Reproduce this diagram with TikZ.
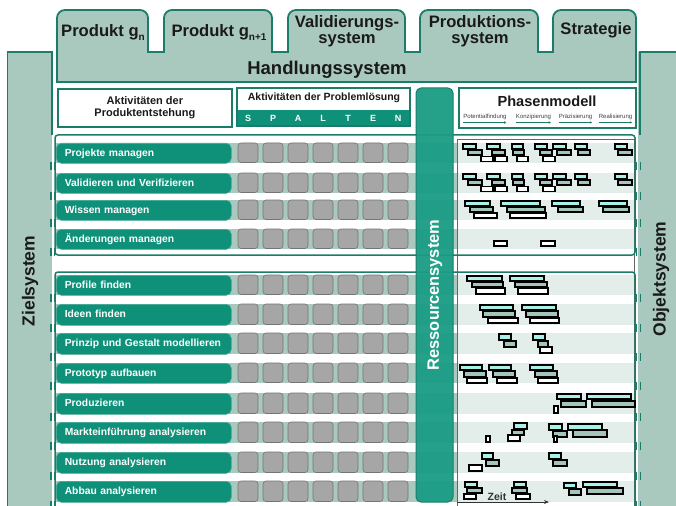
\documentclass[tikz,border=0pt]{standalone}
\usepackage{fontspec}
\setmainfont{Liberation Sans}
\usetikzlibrary{arrows.meta}
\definecolor{lgreen}{HTML}{A9C9BF}
\definecolor{tdark}{HTML}{1B7D69}
\definecolor{tlab}{HTML}{0F9179}
\definecolor{tres}{HTML}{1A9C84}
\definecolor{sqfill}{HTML}{A6A6A6}
\definecolor{sqdraw}{HTML}{747474}
\definecolor{pband}{HTML}{E3EEEA}
\definecolor{gcyan}{HTML}{A8F2EA}
\definecolor{gmid}{HTML}{A4C6BA}
\definecolor{txt}{HTML}{1A1A1A}
\newcommand\GB[5]{\draw[ganttbar,fill=#5] (#1,#3) rectangle (#2,#4);}
\tikzset{
  tabbox/.style={fill=lgreen,draw=tdark,line width=1.8pt,rounded corners=8pt},
  borderline/.style={draw=tdark,line width=1.8pt},
  hbox/.style={fill=white,draw=tdark,line width=1.8pt,inner sep=0pt},
  lab/.style={fill=tlab,draw=tlab!75!white,line width=0.6pt,rounded corners=5pt,anchor=north west,minimum width=175pt,text width=158pt,align=left,inner xsep=8.5pt,inner ysep=0pt,text=white,text height=7.6pt,text depth=1.6pt,font=\fontsize{10.3}{12}\selectfont\bfseries},
  sq/.style={fill=sqfill,draw=sqdraw,line width=0.6pt,rounded corners=3pt},
  ganttbar/.style={draw=black,line width=1.3pt},
  tickm/.style={draw=tdark,line width=1.6pt},
  frame/.style={draw=tdark,line width=1.5pt,rounded corners=3pt},
  tabtext/.style={font=\fontsize{16.6}{16}\selectfont\bfseries,text=txt,align=center,inner sep=0pt},
}
\begin{document}
\begin{tikzpicture}[x=1pt,y=-1pt]
\clip (0,0) rectangle (676,505);
\fill[white] (0,0) rectangle (676,505);

% side systems
\fill[lgreen] (7.5,52) rectangle (52,520);
\draw[borderline] (52,135) -- (52,52) -- (7.5,52) -- (7.5,520);
\fill[lgreen] (638,52) rectangle (690,520);
\draw[borderline] (640,135) -- (640,52) -- (690,52);
\node[rotate=90,font=\fontsize{17.5}{20}\selectfont\bfseries,text=txt] (zs) at (30,281) {Zielsystem};
\node[rotate=90,font=\fontsize{17.5}{20}\selectfont\bfseries,text=txt] (os) at (661,279) {Objektsystem};

% tabs and Handlungssystem bar
\foreach \a/\b in {57/148,164/272,288/405,420/538,553/636}
  \draw[tabbox] (\a,10) rectangle (\b,62);
\fill[lgreen] (57,52) rectangle (636,82);
\draw[borderline] (57,52) -- (57,82) -- (636,82) -- (636,52);
\foreach \a/\b in {148/164,272/288,405/420,538/553}
  \draw[borderline,line cap=rect] (\a,52) -- (\b,52);
\node[tabtext,anchor=base] (t1) at (103,37) {Produkt g\raisebox{-0.22em}{\fontsize{10}{10}\selectfont n}};
\node[tabtext,anchor=base] (t2) at (219,37) {Produkt g\raisebox{-0.22em}{\fontsize{10}{10}\selectfont n+1}};
\node[tabtext] (t3) at (347,31) {Validierungs-\\system};
\node[tabtext] (t4) at (480,31) {Produktions-\\system};
\node[tabtext,anchor=base] (t5) at (596,35) {Strategie};
\node[font=\fontsize{18.5}{20}\selectfont\bfseries,text=txt,anchor=base] (hs) at (327,75) {Handlungssystem};

% header boxes
\node[hbox,anchor=north west,minimum width=174pt,minimum height=38pt,align=center,font=\fontsize{11}{11.5}\selectfont\bfseries,text=txt] (ha) at (57,88) {Aktivitäten der\\Produktentstehung};
\fill[white] (237,88) rectangle (410,126);
\fill[tlab] (237,110) rectangle (410,126);
\draw[borderline] (237,88) rectangle (410,126);
\node[font=\fontsize{10.5}{12}\selectfont\bfseries,anchor=base,text=txt] (hb) at (324,101) {Aktivitäten der Problemlösung};
\foreach \L [count=\i from 0] in {S,P,A,L,T,E,N}
  \node[font=\fontsize{9}{10}\selectfont\bfseries,text=white,anchor=base] (sp\i) at ({248+25*\i},122) {\L};
\fill[white] (459,88) rectangle (636,128);
\draw[borderline] (459,88) rectangle (636,128);
\node[anchor=base,font=\fontsize{14.6}{16}\selectfont\bfseries,text=txt] (pm) at (547,107) {Phasenmodell};
\foreach \x/\t/\n in {485/Potentialfindung/pa,533.5/Konzipierung/pb,575.5/Präzisierung/pc,615.5/Realisierung/pd}{
  \node[anchor=base,font=\fontsize{6}{7}\selectfont,text=black!75,inner sep=0pt] (\n) at (\x,119) {\t};
  \draw[-{Latex[length=2.5pt,width=2.5pt]},tdark,line width=0.9pt] ([yshift=-3.5pt]\n.base west) -- ([yshift=-3.5pt]\n.base east);
}

% row bands
\foreach \yt/\yb in {143/163,173/193,200/220,229/249,275/295,304/325,333/354,363/383,393/414,422/443,452/473,481/502}{
  \fill[lgreen] (56,\yt) rectangle (457,\yb);
  \fill[pband] (457,\yt) rectangle (634,\yb);
}
\draw[black!60,line width=0.7pt] (457,139) rectangle (634,530);
\draw[frame] (55,135) rectangle (635,255);
\draw[frame] (55,272) rectangle (635,530);

% row labels, squares, ticks
\foreach \yt/\yb/\txt/\nm in {143/163/Projekte managen/r1,173/193/Validieren und Verifizieren/r2,200/220/Wissen managen/r3,229/249/Änderungen managen/r4,275/295/Profile finden/r5,304/325/Ideen finden/r6,333/354/Prinzip und Gestalt modellieren/r7,363/383/Prototyp aufbauen/r8,393/414/Produzieren/r9,422/443/Markteinführung analysieren/r10,452/473/Nutzung analysieren/r11,481/502/Abbau analysieren/r12}{
  \pgfmathsetmacro\hh{\yb-\yt}
  \node[lab,minimum height=\hh pt] (\nm) at (56,\yt) {\txt};
  \foreach \k in {0,...,6}
    \draw[sq] ({238+25*\k},\yt) rectangle ({258+25*\k},\yb-0.5);
  \draw[tickm] (51,\yb-1) -- ++(0,8);
  \draw[tickm] (54.5,\yb-1) -- ++(0,8);
  \draw[tickm] (636.5,\yb-1) -- ++(0,8);
  \draw[tickm] (640.5,\yb-1) -- ++(0,8);
}

% Ressourcensystem
\draw[fill=tres,fill opacity=0.95,draw=tdark,line width=1pt,rounded corners=5pt] (416,88) rectangle (453,502);
\node[rotate=90,font=\fontsize{16.4}{18}\selectfont\bfseries,text=white] (res) at (435,295) {Ressourcensystem};

% Gantt bars rows 1-2
\foreach \d in {0,30}{
  \GB{463}{476}{144+\d}{149+\d}{gcyan}\GB{468}{482}{150+\d}{155+\d}{gmid}\GB{481}{493}{156.5+\d}{161.5+\d}{white}
  \GB{487}{500}{144+\d}{149+\d}{gcyan}\GB{492}{505}{150+\d}{155+\d}{gmid}\GB{495}{507}{156.5+\d}{161.5+\d}{white}
  \GB{512}{523}{144+\d}{149+\d}{gcyan}\GB{513}{524}{150+\d}{155+\d}{gmid}\GB{517}{528}{156.5+\d}{161.5+\d}{white}
  \GB{535}{547}{144+\d}{149+\d}{gcyan}\GB{540}{552}{150+\d}{155+\d}{gmid}\GB{543}{555}{156.5+\d}{161.5+\d}{white}
  \GB{553}{566}{144+\d}{149+\d}{gcyan}\GB{557}{571}{150+\d}{155+\d}{gmid}
  \GB{575}{587}{144+\d}{149+\d}{gcyan}\GB{578}{590}{150+\d}{155+\d}{gmid}
  \GB{615}{627}{144+\d}{149+\d}{gcyan}\GB{618}{632}{150+\d}{155+\d}{gmid}
}
% row 3
\GB{465}{490}{201}{206}{gcyan}\GB{470}{493}{207}{212}{gmid}\GB{474}{497}{213}{218}{white}
\GB{501}{540}{201}{206}{gcyan}\GB{507}{545}{207}{212}{gmid}\GB{510}{546}{213}{218}{white}
\GB{552}{580}{201}{206}{gcyan}\GB{558}{583}{207}{212}{gmid}
\GB{599}{627}{201}{206}{gcyan}\GB{603}{629}{207}{212}{gmid}
% row 4
\GB{494}{507}{241}{246}{white}\GB{541}{555}{241}{246}{white}
% Profile
\GB{467}{502}{276}{281}{gcyan}\GB{472}{503}{282}{287}{gmid}\GB{476}{505}{288}{294}{white}
\GB{510}{544}{276}{281}{gcyan}\GB{515}{547}{282}{287}{gmid}\GB{518}{548}{288}{294}{white}
% Ideen
\GB{480}{513}{305}{310}{gcyan}\GB{483}{515}{311}{317}{gmid}\GB{488}{518}{318}{323}{white}
\GB{522}{556}{305}{310}{gcyan}\GB{526}{558}{311}{317}{gmid}\GB{530}{559}{318}{323}{white}
% Prinzip
\GB{499}{511}{334}{340}{gcyan}\GB{504}{516}{341}{347}{gmid}
\GB{533}{545}{334}{340}{gcyan}\GB{538}{548}{341}{347}{gmid}\GB{540}{552}{347}{353}{white}
% Prototyp
\GB{460}{482}{365}{370}{gcyan}\GB{464}{486}{371}{377}{gmid}\GB{467}{487}{378}{383}{white}
\GB{489}{511}{365}{370}{gcyan}\GB{493}{515}{371}{377}{gmid}\GB{497}{517}{378}{383}{white}
\GB{530}{553}{365}{370}{gcyan}\GB{535}{557}{371}{377}{gmid}\GB{538}{558}{378}{383}{white}
% Produzieren
\GB{557}{581}{394}{399}{gcyan}\GB{561}{586}{401}{407}{gmid}
\GB{587}{631}{394}{399}{gcyan}\GB{592}{635}{401}{407}{gmid}
\GB{554}{558}{406}{413}{white}
% Markteinfuehrung
\GB{486}{490}{436}{442}{white}
\GB{514}{527}{423}{429}{gcyan}\GB{512}{524}{430}{435}{gmid}\GB{508}{520}{435}{441}{white}
\GB{549}{562}{424}{430}{gcyan}\GB{553}{567}{431}{437}{gmid}\GB{554}{557}{436}{442}{white}
\GB{568}{602}{424}{430}{gcyan}\GB{573}{607}{430}{437}{gmid}
% Nutzung
\GB{469}{482}{465}{471}{white}
\GB{482}{493}{453}{459}{gcyan}\GB{486}{499}{460}{466}{gmid}
\GB{549}{561}{453}{459}{gcyan}\GB{553}{567}{460}{466}{gmid}
% Abbau
\GB{465}{477}{482}{487}{gcyan}\GB{467}{482}{488}{493}{gmid}\GB{464}{476}{494}{499}{white}
\GB{514}{526}{482}{487}{gcyan}\GB{512}{527}{488}{493}{gmid}\GB{516}{530}{494}{499}{white}
\GB{564}{576}{483}{488}{gcyan}\GB{569}{581}{489}{495}{gmid}
\GB{583}{617}{482}{487}{gcyan}\GB{587}{623}{488}{494}{gmid}

% Zeit arrow
\coordinate (z0) at (457,502);
\coordinate (z1) at (549,502);
\draw[-{Stealth[length=5pt,width=4pt]},black!80,line width=0.8pt] (z0) -- (z1);
\node[anchor=base,font=\fontsize{10.5}{12}\selectfont\bfseries,text=black!80,inner sep=0pt] (zeit) at (497,500.5) {Zeit};
\end{tikzpicture}
\end{document}
